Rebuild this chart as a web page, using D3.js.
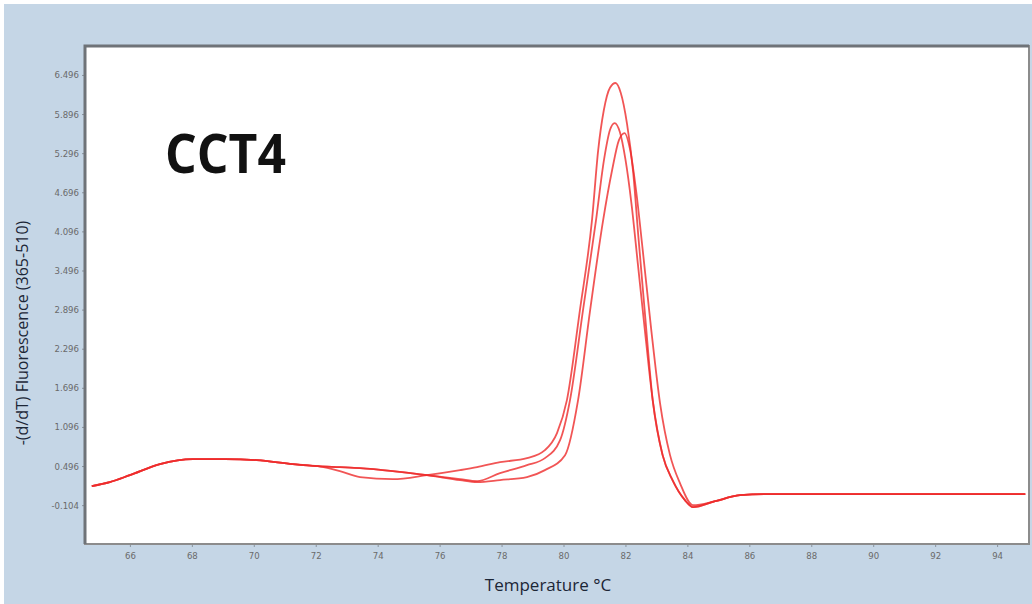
<!DOCTYPE html>
<html>
<head>
<meta charset="utf-8">
<script src="https://cdn.jsdelivr.net/npm/d3@7"></script>
<style>
  body { margin: 0; background: #fff; }
  #container { width: 1032px; height: 604px; }
</style>
</head>
<body>
<div id="container"></div>
<script>
// melt curve, three replicates: [temperature, -(d/dT) fluorescence]
const commonStart = [
  [64.77, 0.188], [65.35, 0.249], [66.0, 0.356], [66.97, 0.525], [68.03, 0.602],
  [69.07, 0.602], [70.1, 0.587], [71.26, 0.525], [72.07, 0.494]
];
const commonTail = [
  [84.9, -0.043], [85.7, 0.049], [86.67, 0.065], [94.91, 0.065]
];
const replicateA = [
  [72.78, 0.418], [73.43, 0.326], [74.49, 0.295], [75.59, 0.356], [76.66, 0.433],
  [77.21, 0.479], [77.95, 0.556], [78.82, 0.617], [79.4, 0.740], [79.79, 1.001],
  [80.11, 1.507], [80.53, 2.888], [80.92, 4.269], [81.12, 5.344], [81.3, 5.95],
  [81.5, 6.3], [81.68, 6.372], [81.85, 6.22], [82.05, 5.75], [82.25, 5.0],
  [82.42, 4.0], [82.62, 2.888], [82.88, 1.507], [83.2, 0.663], [83.52, 0.280],
  [83.92, -0.027], [84.18, -0.135]
];
const replicateB = [
  [72.78, 0.479], [73.43, 0.464], [74.49, 0.418], [75.59, 0.356], [76.66, 0.295],
  [77.21, 0.264], [77.95, 0.387], [78.82, 0.510], [79.4, 0.617], [79.89, 0.893],
  [80.21, 1.507], [80.63, 2.888], [81.05, 4.269], [81.31, 5.2], [81.5, 5.65],
  [81.65, 5.758], [81.82, 5.62], [82.0, 5.2], [82.2, 4.5], [82.4, 3.6],
  [82.6, 2.7], [82.88, 1.507], [83.2, 0.663], [83.52, 0.280], [83.92, -0.027],
  [84.18, -0.135]
];
const replicateC = [
  [72.78, 0.479], [73.43, 0.464], [74.49, 0.418], [75.59, 0.356], [76.66, 0.280],
  [77.21, 0.249], [77.95, 0.280], [78.82, 0.326], [79.4, 0.433], [80.05, 0.663],
  [80.47, 1.507], [80.86, 2.888], [81.28, 4.269], [81.57, 5.037], [81.79, 5.497],
  [81.97, 5.604], [82.15, 5.35], [82.35, 4.7], [82.56, 3.8], [82.83, 2.6],
  [83.12, 1.45], [83.44, 0.663], [83.76, 0.234], [84.18, -0.104]
];
const xTicks = [66, 68, 70, 72, 74, 76, 78, 80, 82, 84, 86, 88, 90, 92, 94];
const yTicks = [-0.104, 0.496, 1.096, 1.696, 2.296, 2.896, 3.496, 4.096, 4.696, 5.296, 5.896, 6.496];
const yTickLabels = ["-0.104", "0.496", "1.096", "1.696", "2.296", "2.896", "3.496", "4.096", "4.696", "5.296", "5.896", "6.496"];

const W = 1032, H = 604;
const margin = {top: 46, right: 3, bottom: 60, left: 85};
const width = W - margin.left - margin.right;
const height = H - margin.top - margin.bottom;

const svg = d3.select("#container").append("svg")
  .attr("width", W)
  .attr("height", H);

svg.append("rect")
  .attr("x", 4).attr("y", 4)
  .attr("width", W - 4).attr("height", H - 4)
  .attr("fill", "#c5d6e6");

const g = svg.append("g")
  .attr("transform", `translate(${margin.left},${margin.top})`);

const x = d3.scaleLinear().domain([64.55, 95.03]).range([0, width]);
const y = d3.scaleLinear().domain([-0.70, 6.94]).range([height, 0]);

g.append("rect")
  .attr("width", width).attr("height", height)
  .attr("fill", "#fff");

// axes
const yAxis = g.append("g")
  .call(d3.axisLeft(y).tickValues(yTicks).tickSize(3).tickPadding(3)
    .tickFormat((d, i) => yTickLabels[i]));
const xAxis = g.append("g")
  .attr("transform", `translate(0,${height})`)
  .call(d3.axisBottom(x).tickValues(xTicks).tickSize(3).tickPadding(5)
    .tickFormat(d3.format("d")));

[yAxis, xAxis].forEach(a => {
  a.select(".domain").remove();
  a.selectAll("line").attr("stroke", "#8a949e");
  a.selectAll("text")
    .attr("fill", "#6a6a6a")
    .style("font-family", "DejaVu Sans Condensed, DejaVu Sans, sans-serif")
    .style("font-size", "9.5px");
});

// plot frame
g.append("rect")
  .attr("width", width).attr("height", height)
  .attr("fill", "none")
  .attr("stroke", "#8c8c8c")
  .attr("stroke-width", 2);
g.append("path")
  .attr("d", `M0,${height} V0 H${width}`)
  .attr("fill", "none")
  .attr("stroke", "#6f7378")
  .attr("stroke-width", 3);

const line = d3.line()
  .x(d => x(d[0]))
  .y(d => y(d[1]))
  .curve(d3.curveMonotoneX);

[replicateA, replicateB, replicateC].forEach(rep => {
  g.append("path")
    .datum(commonStart.concat(rep, commonTail))
    .attr("fill", "none")
    .attr("stroke", "#ee2b2b")
    .attr("stroke-opacity", 0.8)
    .attr("stroke-width", 1.8)
    .attr("d", line);
});

// titles
svg.append("text")
  .attr("x", 165).attr("y", 173)
  .attr("textLength", 121)
  .attr("lengthAdjust", "spacingAndGlyphs")
  .style("font-family", "Open Sans, sans-serif")
  .style("font-weight", "bold")
  .style("font-size", "54px")
  .attr("fill", "#111")
  .text("CCT4");

svg.append("text")
  .attr("transform", "translate(28,333) rotate(-90)")
  .attr("text-anchor", "middle")
  .style("font-family", "Open Sans, sans-serif")
  .style("font-size", "16px")
  .attr("fill", "#1c2636")
  .text("-(d/dT) Fluorescence (365-510)");

svg.append("text")
  .attr("x", 548).attr("y", 591)
  .attr("text-anchor", "middle")
  .style("font-family", "Open Sans, sans-serif")
  .style("font-size", "17px")
  .attr("fill", "#1c2636")
  .text("Temperature °C");
</script>
</body>
</html>
